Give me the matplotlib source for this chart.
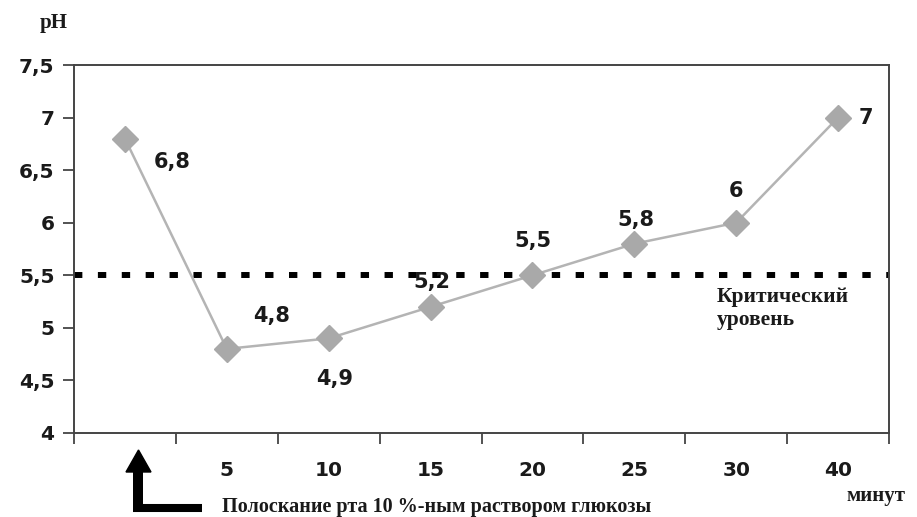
import matplotlib
matplotlib.use('Agg')
from matplotlib import pyplot as plt
from matplotlib.lines import Line2D
from matplotlib.patches import Polygon

# данные
минуты = ['', '5', '10', '15', '20', '25', '30', '40']
ph = [6.8, 4.8, 4.9, 5.2, 5.5, 5.8, 6.0, 7.0]
подписи = ['6,8', '4,8', '4,9', '5,2', '5,5', '5,8', '6', '7']
# смещения подписей в пунктах (dx, dy)
смещения = [(34, -17), (32, 24), (4, -29), (1, 18), (0, 25), (1, 17), (0, 23), (20, 0)]
критический = 5.5
yticks = [4, 4.5, 5, 5.5, 6, 6.5, 7, 7.5]
ytick_labels = ['4', '4,5', '5', '5,5', '6', '6,5', '7', '7,5']

serif = 'Liberation Serif'
W, H = 917, 517

fig = plt.figure(figsize=(9.17, 5.17), dpi=100)
ax = fig.add_axes([74 / W, 1 - 433 / H, (889 - 74) / W, (433 - 65) / H])

x = list(range(len(ph)))
ax.plot(x, ph, color='#b4b4b4', lw=1.8, marker='D', markersize=13,
        markerfacecolor='#a9a9a9', markeredgecolor='#a9a9a9', zorder=3)

ax.axhline(критический, color='black', lw=4.3, linestyle=(0, (1.4, 2.6)), zorder=2)

for xi, yi, t, (dx, dy) in zip(x, ph, подписи, смещения):
    ax.annotate(t, (xi, yi), xytext=(dx, dy), textcoords='offset points',
                ha='center', va='center', fontsize=15, fontweight='bold', color='#1a1a1a')

ax.set_xlim(-0.5, len(ph) - 0.5)
ax.set_ylim(4, 7.5)
ax.set_yticks(yticks)
ax.set_yticklabels(ytick_labels, fontsize=14.5, fontweight='bold', color='#1a1a1a')

# деления на границах категорий, подписи в центрах
ax.set_xticks([i - 0.5 for i in range(len(ph) + 1)])
ax.set_xticklabels([])
ax.set_xticks(x, minor=True)
ax.set_xticklabels(минуты, minor=True, fontsize=14.5, fontweight='bold', color='#1a1a1a')
ax.tick_params(axis='x', which='major', direction='out', length=8, width=1.3, color='#444444')
ax.tick_params(axis='x', which='minor', length=0, pad=20)
ax.tick_params(axis='y', direction='out', length=8, width=1.3, color='#444444', pad=6)

for s in ax.spines.values():
    s.set_color('#444444')
    s.set_linewidth(1.4)

fig.text(40 / W, 1 - 28 / H, 'pH', fontsize=15, fontweight='bold', family=serif, color='#1a1a1a')
ax.text(5.81, 5.39, 'Критический\nуровень', fontsize=15.5, fontweight='bold', family=serif,
        color='#1a1a1a', va='top', ha='left', linespacing=1.2)
fig.text(846 / W, 1 - 501 / H, 'минут', fontsize=15, fontweight='bold', family=serif,
         color='#1a1a1a', ha='left', va='baseline')
fig.text(222 / W, 1 - 512 / H, 'Полоскание рта 10 %-ным раствором глюкозы', fontsize=14.5,
         fontweight='bold', family=serif, color='#1a1a1a', ha='left', va='baseline')

# стрелка
fig.add_artist(Line2D([138 / W, 138 / W], [5 / H, 46 / H], color='black', lw=7.2,
                      transform=fig.transFigure, solid_capstyle='butt'))
fig.add_artist(Line2D([133 / W, 202 / W], [9 / H, 9 / H], color='black', lw=5.8,
                      transform=fig.transFigure, solid_capstyle='butt'))
fig.add_artist(Polygon([[126 / W, 45 / H], [151 / W, 45 / H], [138.5 / W, 67 / H]],
                       closed=True, color='black', transform=fig.transFigure))

fig.savefig('out.png', dpi=100)
